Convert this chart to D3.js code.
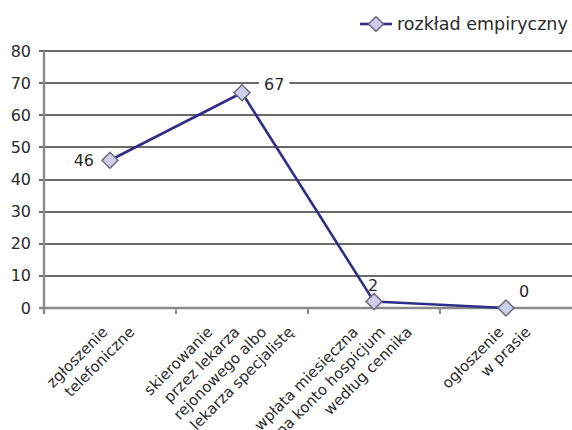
<!DOCTYPE html>
<html>
<head>
<meta charset="utf-8">
<script src="https://cdn.jsdelivr.net/npm/d3@7/dist/d3.min.js"></script>
<style>
  html, body { margin: 0; padding: 0; background: #fff; }
  svg { display: block; font-family: "DejaVu Sans", sans-serif; }
</style>
</head>
<body>
<svg id="chart" width="572" height="430"></svg>
<script>
// Categories (each entry is the wrapped label lines)
const categories = [
  ["zgłoszenie", "telefoniczne"],
  ["skierowanie", "przez lekarza", "rejonowego albo", "lekarza specjalistę"],
  ["wpłata miesięczna", "na konto hospicjum", "według cennika"],
  ["ogłoszenie", "w prasie"]
];
const values = [46, 67, 2, 0];
const yTicks = [0, 10, 20, 30, 40, 50, 60, 70, 80];
const seriesName = "rozkład empiryczny";
// where each value label sits relative to its marker
const labelSides = ["left", "right", "above", "aboveRight"];

const plot = { left: 44, right: 572, top: 51, bottom: 308 };
const lineColor = "#2f2f88";
const markerFill = "#cdcdec";
const markerStroke = "#6c6c7c";
const textColor = "#2a2a2a";

const svg = d3.select("#chart");
const keys = categories.map(c => c.join(" "));

const x = d3.scaleBand().domain(keys).range([plot.left, plot.right]).paddingInner(0).paddingOuter(0);
const y = d3.scaleLinear().domain([0, 80]).range([plot.bottom, plot.top]);
const cx = k => x(k) + x.bandwidth() / 2;
const crisp = v => Math.round(v);

// horizontal gridlines with outward tick stubs
svg.append("g").selectAll("line").data(yTicks.filter(t => t > 0)).join("line")
  .attr("x1", plot.left - 5).attr("x2", plot.right)
  .attr("y1", d => crisp(y(d))).attr("y2", d => crisp(y(d)))
  .attr("stroke", "#3a3a3a").attr("stroke-width", 1.6);

// y tick labels
svg.append("g").selectAll("text").data(yTicks).join("text")
  .attr("x", 31).attr("y", d => y(d))
  .attr("text-anchor", "end").attr("dominant-baseline", "central")
  .attr("font-size", 16).attr("fill", textColor)
  .text(d => d);

// x axis line and category boundary ticks
svg.append("line")
  .attr("x1", plot.left - 5).attr("x2", plot.right)
  .attr("y1", y(0)).attr("y2", y(0))
  .attr("stroke", "#8a8a8a").attr("stroke-width", 2.4);
const bounds = keys.map(k => x(k));
svg.append("g").selectAll("line").data(bounds).join("line")
  .attr("x1", d => d).attr("x2", d => d)
  .attr("y1", y(0)).attr("y2", y(0) + 6)
  .attr("stroke", "#8a8a8a").attr("stroke-width", 2);

// y axis line
svg.append("line")
  .attr("x1", plot.left).attr("x2", plot.left)
  .attr("y1", plot.top).attr("y2", y(0) + 5)
  .attr("stroke", "#8a8a8a").attr("stroke-width", 2.4);

// rotated category labels: every line ends on the same row, stepping right
const lineStep = 27;
const labelG = svg.append("g");
categories.forEach((lines, ci) => {
  const n = lines.length;
  lines.forEach((t, i) => {
    const ex = cx(keys[ci]) + 12 + (i - (n - 1) / 2) * lineStep;
    const ey = 333;
    labelG.append("text")
      .attr("transform", `translate(${ex},${ey}) rotate(-45)`)
      .attr("text-anchor", "end")
      .attr("font-size", 15).attr("fill", textColor)
      .text(t);
  });
});

const pts = values.map((v, i) => [cx(keys[i]), y(v)]);

// value labels (white backing hides the gridlines beneath them)
const offsets = {
  left: { dx: -16, dy: 0, anchor: "end" },
  right: { dx: 22, dy: -8, anchor: "start" },
  above: { dx: -1, dy: -16, anchor: "middle" },
  aboveRight: { dx: 18, dy: -17, anchor: "middle" }
};
const vl = svg.append("g");
values.forEach((v, i) => {
  const o = offsets[labelSides[i]];
  const g = vl.append("g");
  const t = g.append("text")
    .attr("x", pts[i][0] + o.dx).attr("y", pts[i][1] + o.dy)
    .attr("text-anchor", o.anchor).attr("dominant-baseline", "central")
    .attr("font-size", 16).attr("fill", textColor)
    .text(v);
  const bb = t.node().getBBox();
  g.insert("rect", "text")
    .attr("x", bb.x - 5).attr("y", bb.y + 2)
    .attr("width", bb.width + 10).attr("height", bb.height - 4)
    .attr("fill", "#fff");
});

// series line
svg.append("path")
  .attr("d", d3.line()(pts))
  .attr("fill", "none").attr("stroke", lineColor).attr("stroke-width", 2.6)
  .attr("stroke-linejoin", "round");

// diamond markers
const diamond = d3.symbol().type(d3.symbolSquare).size(128);
svg.append("g").selectAll("path").data(pts).join("path")
  .attr("d", diamond())
  .attr("transform", d => `translate(${d[0]},${d[1]}) rotate(45)`)
  .attr("fill", markerFill).attr("stroke", markerStroke).attr("stroke-width", 1.5);

// legend
const lg = svg.append("g").attr("transform", "translate(360,24)");
lg.append("line").attr("x1", 0).attr("x2", 32).attr("y1", 0).attr("y2", 0)
  .attr("stroke", lineColor).attr("stroke-width", 2.6);
lg.append("path").attr("d", d3.symbol().type(d3.symbolSquare).size(110)())
  .attr("transform", "translate(16,0) rotate(45)")
  .attr("fill", markerFill).attr("stroke", markerStroke).attr("stroke-width", 1.5);
lg.append("text").attr("x", 37).attr("y", 0)
  .attr("dominant-baseline", "central")
  .attr("font-size", 17.5).attr("fill", textColor)
  .text(seriesName);
</script>
</body>
</html>
